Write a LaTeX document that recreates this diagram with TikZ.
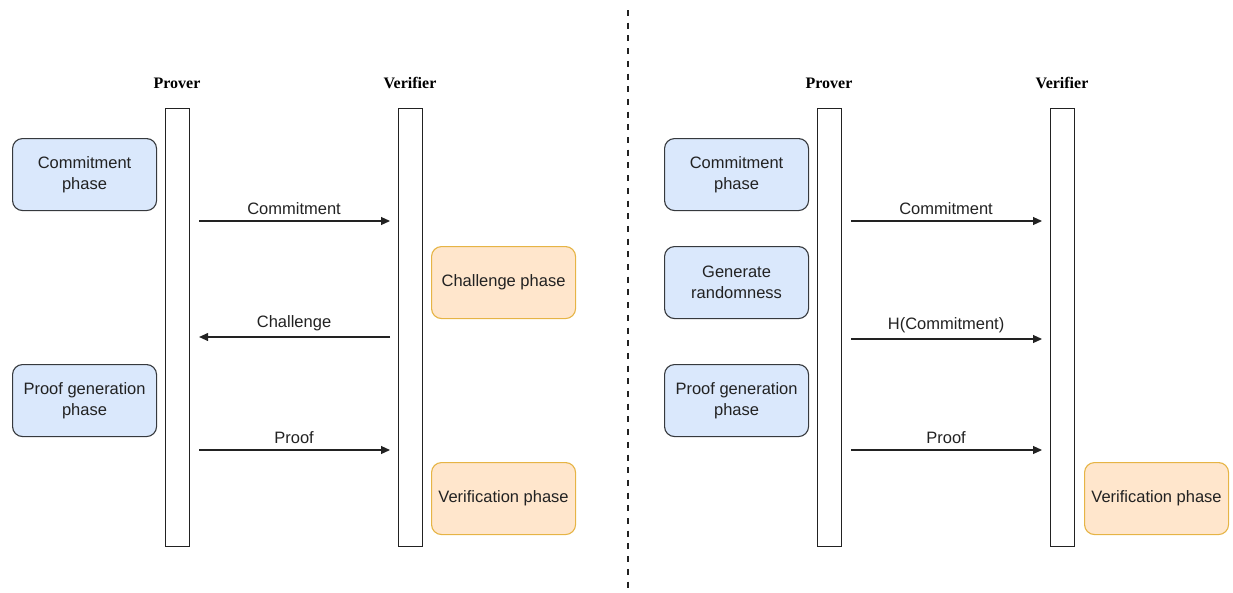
\documentclass[tikz,border=0pt]{standalone}
\usepackage{fontspec}
\setmainfont{Liberation Sans}
\newfontfamily\headfont{Liberation Serif}
\usetikzlibrary{arrows.meta,calc}
\definecolor{bluefill}{HTML}{DAE8FC}
\definecolor{bluedraw}{HTML}{36393D}
\definecolor{orangefill}{HTML}{FFE6CC}
\definecolor{orangedraw}{HTML}{E6B445}
\definecolor{ink}{HTML}{222222}
\begin{document}
\begin{tikzpicture}[x=1pt,y=-1pt,
  every node/.style={font=\fontsize{16.5}{21}\selectfont, text=ink},
  lifeline/.style={draw=ink, line width=1.1pt, fill=white, minimum width=24pt, minimum height=438pt, inner sep=0pt, anchor=north west},
  actor/.style={font=\fontsize{16}{19}\headfont\bfseries, text=black},
  phaseblue/.style={draw=bluedraw, fill=bluefill, line width=1.1pt, rounded corners=10pt, minimum width=144pt, minimum height=72pt, inner sep=2pt, align=center, anchor=north west},
  phaseorange/.style={draw=orangedraw, fill=orangefill, line width=1.1pt, rounded corners=10pt, minimum width=144pt, minimum height=72pt, inner sep=2pt, align=center, anchor=north west},
  msg/.style={draw=ink, line width=1.1pt, -{Triangle[length=9pt,width=8pt]}},
  lbl/.style={above=2pt, fill=none}
]
\useasboundingbox (0,0) rectangle (1233,592);

% divider between the two protocols
\draw[ink, line width=2.4pt, dash pattern=on 6pt off 6.7pt] (628,10) -- (628,592);

% ---------- interactive protocol ----------
\node[lifeline] (pA) at (165,108) {};
\node[lifeline] (vA) at (398,108) {};
\node[actor] (pAlbl) at (177,83) {Prover};
\node[actor] (vAlbl) at (410,83) {Verifier};

\node[phaseblue] (commitA) at (12,138) {Commitment\\phase};
\node[phaseorange] (chalA) at (431,246) {Challenge phase};
\node[phaseblue] (proofgenA) at (12,364) {Proof generation\\phase};
\node[phaseorange] (verA) at (431,462) {Verification phase};

\draw[msg, shorten <=9pt, shorten >=8pt] (pA.east |- 0,221) -- node[lbl] {Commitment} (vA.west |- 0,221);
\draw[msg, shorten <=8pt, shorten >=9pt] (vA.west |- 0,337) -- node[lbl] {Challenge} (pA.east |- 0,337);
\draw[msg, shorten <=9pt, shorten >=8pt] (pA.east |- 0,450) -- node[lbl] {Proof} (vA.west |- 0,450);

% ---------- non-interactive protocol ----------
\node[lifeline] (pB) at (817,108) {};
\node[lifeline] (vB) at (1050,108) {};
\node[actor] (pBlbl) at (829,83) {Prover};
\node[actor] (vBlbl) at (1062,83) {Verifier};

\node[phaseblue] (commitB) at (664,138) {Commitment\\phase};
\node[phaseblue] (randB) at (664,246) {Generate\\randomness};
\node[phaseblue] (proofgenB) at (664,364) {Proof generation\\phase};
\node[phaseorange] (verB) at (1084,462) {Verification phase};

\draw[msg, shorten <=9pt, shorten >=8pt] (pB.east |- 0,221) -- node[lbl] {Commitment} (vB.west |- 0,221);
\draw[msg, shorten <=9pt, shorten >=8pt] (pB.east |- 0,339) -- node[lbl] {H(Commitment)} (vB.west |- 0,339);
\draw[msg, shorten <=9pt, shorten >=8pt] (pB.east |- 0,450) -- node[lbl] {Proof} (vB.west |- 0,450);
\end{tikzpicture}
\end{document}
